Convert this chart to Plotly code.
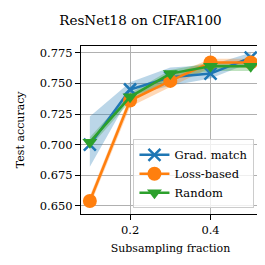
import plotly.graph_objects as go

fractions = [0.1, 0.2, 0.3, 0.4, 0.5]

grad_mean = [0.700, 0.745, 0.755, 0.758, 0.771]
grad_upper = [0.723, 0.751, 0.763, 0.765, 0.775]
grad_lower = [0.682, 0.740, 0.748, 0.754, 0.767]

loss_mean = [0.654, 0.736, 0.752, 0.767, 0.767]
loss_upper = [0.658, 0.740, 0.756, 0.770, 0.770]
loss_lower = [0.650, 0.731, 0.747, 0.763, 0.763]

rand_mean = [0.702, 0.739, 0.758, 0.764, 0.764]
rand_upper = [0.706, 0.742, 0.761, 0.767, 0.767]
rand_lower = [0.698, 0.735, 0.754, 0.760, 0.760]

series = [
    ("Grad. match", grad_mean, grad_upper, grad_lower, "#1f77b4", "rgba(31,119,180,0.3)", "x-thin", 12),
    ("Loss-based", loss_mean, loss_upper, loss_lower, "#ff7f0e", "rgba(255,127,14,0.3)", "circle", 14),
    ("Random", rand_mean, rand_upper, rand_lower, "#2ca02c", "rgba(44,160,44,0.3)", "triangle-down", 13),
]

FONT = "DejaVu Serif"
fig = go.Figure()
for name, mean, up, lo, col, fcol, sym, sz in series:
    fig.add_trace(go.Scatter(x=fractions, y=up, mode="lines", line=dict(width=0, color=fcol),
                             showlegend=False, hoverinfo="skip"))
    fig.add_trace(go.Scatter(x=fractions, y=lo, mode="lines", line=dict(width=0, color=fcol),
                             fill="tonexty", fillcolor=fcol, showlegend=False, hoverinfo="skip"))
for name, mean, up, lo, col, fcol, sym, sz in series:
    fig.add_trace(go.Scatter(
        x=fractions, y=mean, mode="lines+markers", name=name,
        line=dict(color=col, width=2.5),
        marker=dict(symbol=sym, size=sz, color=col,
                    line=dict(color=col, width=2.5 if sym == "x-thin" else 0)),
    ))

fig.update_layout(
    width=265, height=265,
    margin=dict(l=73, r=13, t=38, b=59),
    paper_bgcolor="white", plot_bgcolor="white",
    font=dict(family=FONT, size=11.5, color="black"),
    title=dict(text="ResNet18 on CIFAR100", x=0.5, xanchor="center", y=0.955, yanchor="middle",
               font=dict(family=FONT, size=13.5, color="black")),
    showlegend=True,
    legend=dict(x=0.969, y=0.034, xanchor="right", yanchor="bottom", traceorder="normal",
                bgcolor="rgba(255,255,255,0.8)", bordercolor="#cccccc", borderwidth=1,
                font=dict(family=FONT, size=11.5), tracegroupgap=0, itemwidth=30),
    annotations=[dict(text="Test accuracy", xref="paper", yref="paper", x=-0.34, y=0.5,
                      xanchor="center", yanchor="middle", textangle=-90, showarrow=False,
                      font=dict(family=FONT, size=11, color="black"))],
)
fig.update_xaxes(
    range=[0.078, 0.523], tickvals=[0.2, 0.4], ticktext=["0.2", "0.4"],
    showgrid=True, gridcolor="#b0b0b0", gridwidth=1,
    showline=True, linecolor="black", linewidth=1.2, mirror=True,
    ticks="outside", ticklen=5, tickcolor="black", zeroline=False,
    tickfont=dict(family=FONT, size=11.5),
    title=dict(text="Subsampling fraction", standoff=8, font=dict(family=FONT, size=11)),
)
fig.update_yaxes(
    range=[0.6434, 0.7805], tickvals=[0.650, 0.675, 0.700, 0.725, 0.750, 0.775],
    ticktext=["0.650", "0.675", "0.700", "0.725", "0.750", "0.775"],
    showgrid=True, gridcolor="#b0b0b0", gridwidth=1,
    showline=True, linecolor="black", linewidth=1.2, mirror=True,
    ticks="outside", ticklen=5, tickcolor="black", zeroline=False,
    tickfont=dict(family=FONT, size=11.5),
)
fig.write_html("out.html")
